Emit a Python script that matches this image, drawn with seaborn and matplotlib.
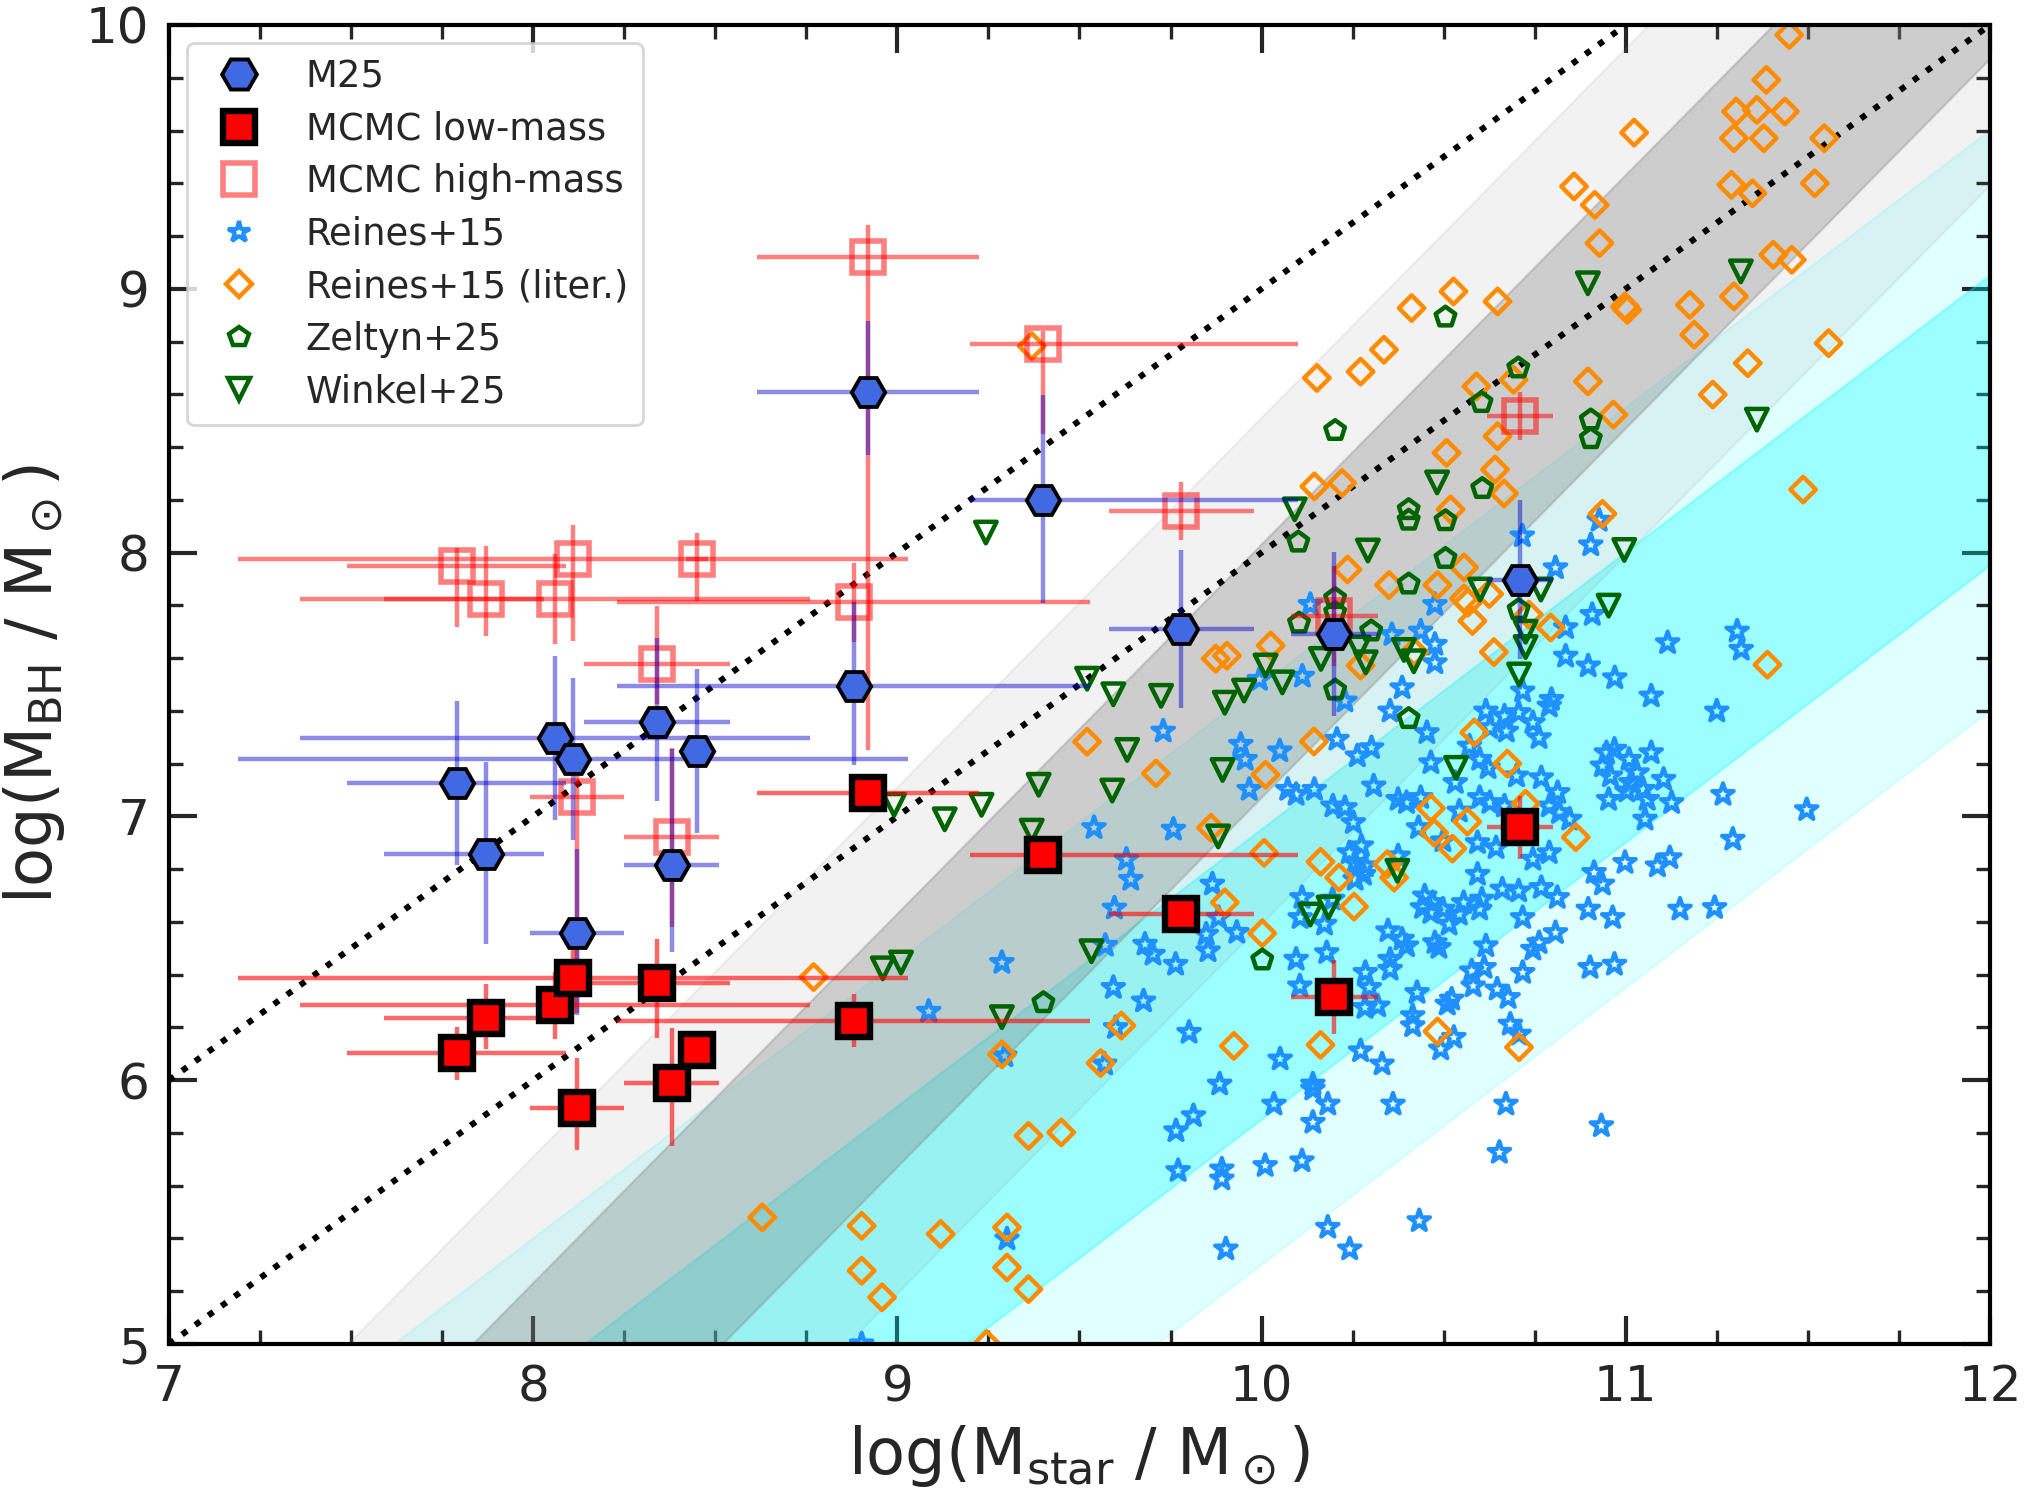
import numpy as np
import pandas as pd
import matplotlib
matplotlib.use("Agg")
import matplotlib.pyplot as plt
from matplotlib.ticker import MultipleLocator
from matplotlib.lines import Line2D
import seaborn as sns

# ---------------- data ----------------
# 14 objects: shared stellar masses and x errors
obj_x = [7.79, 7.87, 8.06, 8.11, 8.12, 8.34, 8.38, 8.45, 8.88, 8.92, 9.40, 9.78, 10.20, 10.71]
obj_xerr_lo = [0.30, 0.28, 0.70, 0.92, 0.13, 0.20, 0.13, 0.03, 0.65, 0.305, 0.20, 0.20, 0.12, 0.09]
obj_xerr_hi = [0.30, 0.16, 0.70, 0.92, 0.13, 0.20, 0.13, 0.03, 0.65, 0.305, 0.70, 0.20, 0.12, 0.09]

m25_y = [7.127, 6.857, 7.297, 7.216, 6.558, 7.358, 6.817, 7.248, 7.496, 8.609, 8.198, 7.710, 7.691, 7.898]
m25_ylo = [0.31, 0.34, 0.31, 0.305, 0.31, 0.30, 0.33, 0.31, 0.30, 0.24, 0.39, 0.30, 0.31, 0.30]
m25_yhi = [0.31, 0.35, 0.31, 0.31, 0.32, 0.32, 0.44, 0.31, 0.315, 0.27, 0.40, 0.30, 0.31, 0.30]

low_y = [6.102, 6.237, 6.284, 6.386, 5.894, 6.370, 5.989, 6.115, 6.225, 7.087, 6.852, 6.629, 6.314, 6.959]
low_ylo = [0.10, 0.12, 0.126, 0.136, 0.16, 0.21, 0.24, 0.07, 0.10, 0.05, 0.05, 0.05, 0.14, 0.12]
low_yhi = [0.10, 0.126, 0.126, 0.136, 0.19, 0.167, 0.21, 0.07, 0.10, 0.05, 0.05, 0.05, 0.14, 0.12]

high_y = [7.949, 7.825, 7.825, 7.976, 7.074, 7.577, 6.921, 7.976, 7.811, 9.12, 8.79, 8.159, 7.759, 8.517]
high_ylo = [0.23, 0.14, 0.17, 0.31, 0.82, 0.15, 0.34, 0.16, 0.15, 1.87, 0.34, 0.11, 0.19, 0.09]
high_yhi = [0.07, 0.20, 0.17, 0.13, 0.08, 0.22, 0.34, 0.10, 0.15, 0.12, 0.05, 0.11, 0.19, 0.09]

reines15 = [
    (10.134,7.803),(10.476,7.803),(10.807,7.942),(10.908,7.765),(10.835,7.715),(11.115,7.658),(11.306,7.702),
    (11.317,7.633),(10.437,7.702),(10.476,7.652),(10.476,7.582),(10.358,7.689),(10.835,7.607),(10.897,7.570),
    (10.970,7.525),(11.070,7.456),(11.250,7.399),(10.386,7.487),(10.112,7.531),(9.994,7.519),(10.229,7.437),
    (10.353,7.399),(10.717,7.475),(10.796,7.443),(10.616,7.399),(10.667,7.380),(10.706,7.393),(10.745,7.355),
    (10.672,7.323),(10.762,7.298),(10.627,7.336),(10.790,7.418),(10.454,7.317),(9.730,7.323),(9.943,7.273),
    (9.955,7.216),(10.050,7.248),(10.207,7.292),(10.263,7.229),(10.302,7.260),(10.571,7.266),(10.599,7.216),
    (10.465,7.203),(10.622,7.184),(10.700,7.153),(10.768,7.146),(10.947,7.241),(10.969,7.254),(11.009,7.216),
    (11.070,7.241),(10.936,7.191),(10.958,7.153),(11.031,7.165),(11.014,7.128),(11.048,7.102),(11.003,7.096),
    (11.104,7.140),(11.059,7.064),(11.126,7.052),(10.953,7.064),(11.053,6.989),(11.267,7.083),(11.294,6.913),
    (11.121,6.843),(11.087,6.812),(10.998,6.825),(10.913,6.787),(10.936,6.743),(10.308,7.115),(9.966,7.102),
    (10.072,7.102),(10.095,7.083),(10.145,7.102),(10.196,7.039),(10.229,7.033),(10.252,6.976),(10.375,7.064),
    (10.398,7.052),(10.437,7.071),(10.532,7.128),(10.599,7.071),(10.627,7.052),(10.667,7.039),(10.790,7.039),
    (10.818,7.014),(10.846,6.989),(10.813,7.090),(10.543,7.020),(10.431,6.957),(10.498,6.907),(10.593,6.900),
    (10.644,6.881),(10.745,6.837),(10.790,6.862),(9.758,6.951),(9.629,6.837),(9.641,6.761),(10.241,6.862),
    (10.274,6.888),(10.257,6.825),(10.285,6.812),(10.257,6.761),(10.280,6.780),(10.375,6.850),(10.593,6.780),
    (10.661,6.724),(10.706,6.717),(10.768,6.730),(10.812,6.692),(10.897,6.648),(10.964,6.616),(11.149,6.648),
    (11.244,6.654),(9.865,6.743),(10.111,6.692),(10.195,6.686),(10.106,6.616),(10.173,6.591),(10.448,6.698),
    (10.470,6.673),(10.442,6.654),(10.465,6.635),(10.498,6.648),(10.555,6.673),(10.605,6.686),(10.543,6.629),
    (10.599,6.648),(10.717,6.616),(10.515,6.591),(9.932,6.560),(9.848,6.553),(9.882,6.616),(9.680,6.515),
    (9.702,6.477),(9.764,6.439),(9.853,6.490),(10.347,6.566),(10.386,6.534),(10.398,6.509),(10.476,6.521),
    (10.487,6.503),(10.616,6.509),(10.762,6.521),(10.745,6.496),(10.807,6.559),(10.902,6.427),(10.969,6.439),
    (10.095,6.458),(10.179,6.483),(10.353,6.458),(10.353,6.420),(10.577,6.414),(10.611,6.427),(10.285,6.408),
    (10.717,6.408),
    (9.593,6.351),(9.676,6.300),(9.599,6.199),(9.801,6.181),(9.569,6.061),(9.295,6.092),(10.105,6.357),
    (10.296,6.351),(10.284,6.275),(10.319,6.281),(10.427,6.332),(10.415,6.244),(10.415,6.206),(10.522,6.307),
    (10.510,6.288),(10.581,6.357),(10.647,6.345),(10.677,6.313),(10.683,6.212),(10.707,6.174),(10.528,6.162),
    (10.492,6.118),(10.272,6.111),(10.331,6.061),(10.051,6.080),(9.885,5.985),(10.141,5.985),(10.141,5.966),
    (10.034,5.909),(10.182,5.909),(10.361,5.909),(10.671,5.909),(9.813,5.865),(9.765,5.808),(10.141,5.840),
    (10.933,5.827),(10.653,5.726),(9.771,5.657),(9.891,5.663),(9.891,5.625),(10.010,5.676),(10.111,5.694),
    (10.433,5.467),(10.182,5.442),(9.902,5.360),(10.242,5.360),(9.301,5.398),
    (9.540,6.957),(9.596,6.652),(9.571,6.511),(9.086,6.261),(9.287,6.446),
    (10.716,8.063),(10.904,8.029),(10.927,8.122),(11.497,7.025),(8.902,5.000),
]
reines15_x = [p[0] for p in reines15]
reines15_y = [p[1] for p in reines15]

liter = [
    (11.449,9.962),(11.386,9.792),(11.303,9.672),(11.360,9.678),(11.437,9.672),(11.297,9.571),(11.379,9.571),
    (11.545,9.571),(11.023,9.592),(11.290,9.394),(11.348,9.362),(11.519,9.400),(10.858,9.388),(10.915,9.318),
    (10.928,9.173),(11.405,9.129),(11.456,9.110),(11.297,8.971),(11.176,8.939),(10.998,8.933),(11.004,8.920),
    (11.188,8.826),(11.557,8.794),(11.335,8.718),(11.239,8.599),(10.896,8.649),(10.966,8.523),(10.527,8.990),
    (10.412,8.927),(10.648,8.952),(10.336,8.769),(10.272,8.686),(10.152,8.662),(10.590,8.630),(10.692,8.655),
    (10.648,8.441),(10.508,8.378),(10.641,8.315),(10.145,8.251),(10.221,8.264),(11.487,8.239),(11.389,7.575),
    (10.666,8.224),(10.936,8.147),(10.519,8.164),(10.236,7.936),(10.350,7.877),(10.483,7.877),(10.556,7.944),
    (10.556,7.826),(10.579,7.741),(10.625,7.843),(10.794,7.716),(10.638,7.623),(10.025,7.648),(10.272,7.572),
    (10.419,7.623),(10.144,7.284),(10.011,7.158),(10.584,7.318),(10.675,7.200),(10.465,7.031),(10.474,6.938),
    (10.565,6.980),(10.524,6.878),(10.863,6.921),(10.007,6.862),(10.162,6.828),(10.213,6.768),(10.345,6.819),
    (10.364,6.768),(10.254,6.658),(10.002,6.557),(10.162,6.134),(10.483,6.185),(10.707,6.125),(10.725,7.048),
    (10.734,7.765),(10.566,7.810),
    (9.369,8.783),(9.874,7.598),(9.905,7.609),(9.521,7.283),(9.710,7.163),(9.861,6.957),(9.899,6.674),
    (8.770,6.391),(9.615,6.207),(9.287,6.098),(9.558,6.065),(9.924,6.130),
    (9.360,5.789),(9.450,5.802),(9.301,5.442),(9.301,5.290),(9.360,5.208),
    (8.629,5.480),(8.902,5.448),(8.902,5.278),(8.958,5.177),(9.119,5.417),(9.245,5.000),
]
liter_x = [p[0] for p in liter]
liter_y = [p[1] for p in liter]

zeltyn = [
    (10.505,8.893),(10.202,8.463),(10.604,8.569),(10.904,8.503),(10.904,8.432),(10.705,8.700),(10.101,8.040),
    (10.404,8.163),(10.404,8.123),(10.505,8.121),(10.505,7.978),(10.404,7.881),(10.606,8.243),(10.202,7.826),
    (10.202,7.773),(10.103,7.733),(10.301,7.703),(10.706,7.784),(10.202,7.479),(10.404,7.371),(10.002,6.456),
    (9.401,6.294),
]
zeltyn_x = [p[0] for p in zeltyn]
zeltyn_y = [p[1] for p in zeltyn]

winkel = [
    (9.243,8.076),(9.521,7.522),(9.593,7.463),(9.724,7.457),(9.631,7.252),(9.590,7.098),(9.893,7.176),
    (9.388,7.120),(8.991,7.044),(9.130,6.989),(9.231,7.044),(9.369,6.946),(9.881,6.924),(8.960,6.424),
    (9.010,6.446),(9.533,6.489),(9.287,6.239),(10.091,8.164),(10.292,8.008),(10.482,8.266),(9.899,7.431),
    (9.952,7.477),(10.011,7.572),(10.057,7.508),(10.163,7.597),(10.267,7.640),(10.286,7.584),(10.391,7.631),
    (10.418,7.588),(10.373,6.794),(10.134,6.628),(10.184,6.655),(10.534,7.184),(10.600,7.860),(10.767,7.860),
    (10.725,7.700),(10.725,7.642),(10.707,7.538),(10.996,8.010),(10.953,7.799),(10.896,9.021),(11.316,9.066),
    (11.360,8.504),
]
winkel_x = [p[0] for p in winkel]
winkel_y = [p[1] for p in winkel]

# scaling relations: intercept at logM*=11, slope, scatter
gray_rel = (8.95, 1.40, 0.48)
cyan_rel = (7.45, 1.05, 0.55)
ratio_offsets = [-1.0, -2.0]

xlim = (7, 12)
ylim = (5, 10)

# ---------------- plot ----------------
sns.set_theme(style="ticks")
plt.rcParams["font.family"] = ["DejaVu Sans"]
plt.rcParams["mathtext.default"] = "regular"

fig = plt.figure(figsize=(10.13, 7.485), dpi=200)
ax = fig.add_axes([0.0834, 0.1022, 0.8988, 0.8811])

xx = np.linspace(xlim[0], xlim[1], 200)
c0, c1, cs = cyan_rel
cm = c0 + c1 * (xx - 11)
ax.fill_between(xx, cm - 2 * cs, cm + 2 * cs, color="cyan", alpha=0.12, zorder=0.5, lw=0.8)
ax.fill_between(xx, cm - cs, cm + cs, color="cyan", alpha=0.30, zorder=0.55, lw=0.8)
g0, g1, gs = gray_rel
gm = g0 + g1 * (xx - 11)
ax.fill_between(xx, gm - 2 * gs, gm + 2 * gs, color="gray", alpha=0.10, zorder=0.6, lw=0.8)
ax.fill_between(xx, gm - gs, gm + gs, color="gray", alpha=0.32, zorder=0.65, lw=0.8)

for off in ratio_offsets:
    ax.plot(xx, xx + off, ls=":", color="black", lw=2.2, zorder=1)

lit = pd.DataFrame({"x": reines15_x, "y": reines15_y})
sns.scatterplot(data=lit, x="x", y="y", ax=ax, marker="*", s=66, color="dodgerblue",
                facecolor="none", edgecolor="dodgerblue", linewidth=1.5, zorder=2, legend=False)
lit2 = pd.DataFrame({"x": liter_x, "y": liter_y})
sns.scatterplot(data=lit2, x="x", y="y", ax=ax, marker="D", s=42, color="darkorange",
                facecolor="none", edgecolor="darkorange", linewidth=1.6, zorder=2, legend=False)
lit3 = pd.DataFrame({"x": zeltyn_x, "y": zeltyn_y})
sns.scatterplot(data=lit3, x="x", y="y", ax=ax, marker="p", s=55, color="darkgreen",
                facecolor="none", edgecolor="darkgreen", linewidth=1.6, zorder=2, legend=False)
lit4 = pd.DataFrame({"x": winkel_x, "y": winkel_y})
sns.scatterplot(data=lit4, x="x", y="y", ax=ax, marker="v", s=60, color="darkgreen",
                facecolor="none", edgecolor="darkgreen", linewidth=1.6, zorder=2, legend=False)

xerr = [obj_xerr_lo, obj_xerr_hi]
pink = (1.0, 0.0, 0.0, 0.5)
red_e = (1.0, 0.0, 0.0, 0.6)
blue_e = (0.0, 0.0, 0.8, 0.45)

ax.errorbar(obj_x, high_y, xerr=xerr, yerr=[high_ylo, high_yhi], fmt="none",
            ecolor=pink, elinewidth=1.6, capsize=0, zorder=3)
ax.plot(obj_x, high_y, ls="none", marker="s", ms=11.5, mfc="none", mec=pink, mew=2.0, zorder=3.1)

ax.errorbar(obj_x, m25_y, xerr=xerr, yerr=[m25_ylo, m25_yhi], fmt="none",
            ecolor=blue_e, elinewidth=1.6, capsize=0, zorder=3.2)
ax.plot(obj_x, m25_y, ls="none", marker="H", ms=12, mfc="royalblue", mec="black", mew=1.4, zorder=4)

ax.errorbar(obj_x, low_y, xerr=xerr, yerr=[low_ylo, low_yhi], fmt="none",
            ecolor=red_e, elinewidth=1.6, capsize=0, zorder=3.3)
ax.plot(obj_x, low_y, ls="none", marker="s", ms=11.5, mfc="red", mec="black", mew=2.3, zorder=4.1)

ax.set_xlim(*xlim)
ax.set_ylim(*ylim)
ax.xaxis.set_major_locator(MultipleLocator(1))
ax.xaxis.set_minor_locator(MultipleLocator(0.25))
ax.yaxis.set_major_locator(MultipleLocator(1))
ax.yaxis.set_minor_locator(MultipleLocator(0.2))
ax.tick_params(which="both", direction="in", top=True, right=True, labelsize=18)
ax.tick_params(which="major", length=10, width=1.5, pad=7)
ax.tick_params(which="minor", length=5, width=1.2)
for sp in ax.spines.values():
    sp.set_linewidth(1.5)
    sp.set_color("black")

ax.set_xlabel(r"log(M$_{\rm star}$ / M$_\odot$)", fontsize=23, labelpad=4)
ax.set_ylabel(r"log(M$_{\rm BH}$ / M$_\odot$)", fontsize=23, labelpad=7)

handles = [
    Line2D([], [], ls="none", marker="H", ms=12.5, mfc="royalblue", mec="black", mew=1.4, label="M25"),
    Line2D([], [], ls="none", marker="s", ms=11.5, mfc="red", mec="black", mew=2.3, label="MCMC low-mass"),
    Line2D([], [], ls="none", marker="s", ms=11.5, mfc="none", mec=pink, mew=2.0, label="MCMC high-mass"),
    Line2D([], [], ls="none", marker="*", ms=8, mfc="none", mec="dodgerblue", mew=1.5, label="Reines+15"),
    Line2D([], [], ls="none", marker="D", ms=6.5, mfc="none", mec="darkorange", mew=1.6, label="Reines+15 (liter.)"),
    Line2D([], [], ls="none", marker="p", ms=7.4, mfc="none", mec="darkgreen", mew=1.6, label="Zeltyn+25"),
    Line2D([], [], ls="none", marker="v", ms=7.7, mfc="none", mec="darkgreen", mew=1.6, label="Winkel+25"),
]
leg = ax.legend(handles=handles, loc="upper left", fontsize=13.3, labelspacing=0.42,
                borderaxespad=0.5, frameon=True, fancybox=True)
leg.get_frame().set_edgecolor("0.8")
leg.set_zorder(10)

fig.savefig("out.png", dpi=200)
